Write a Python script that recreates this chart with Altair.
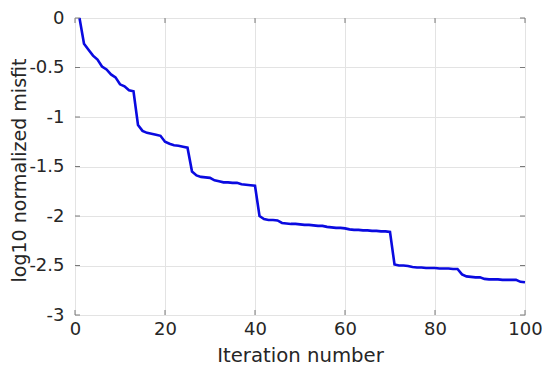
import altair as alt
import pandas as pd

iterations = list(range(1, 101))
misfit = [
    0.00, -0.26, -0.32, -0.38, -0.42, -0.49, -0.52, -0.57, -0.60, -0.67,
    -0.69, -0.73, -0.74, -1.08, -1.14, -1.16, -1.17, -1.18, -1.19, -1.25,
    -1.27, -1.285, -1.29, -1.30, -1.31, -1.55, -1.59, -1.605, -1.61, -1.615,
    -1.64, -1.65, -1.66, -1.66, -1.665, -1.665, -1.68, -1.685, -1.69, -1.695,
    -2.00, -2.03, -2.04, -2.04, -2.045, -2.07, -2.075, -2.08, -2.08, -2.085,
    -2.09, -2.09, -2.095, -2.10, -2.10, -2.11, -2.115, -2.12, -2.12, -2.125,
    -2.135, -2.14, -2.14, -2.145, -2.145, -2.15, -2.15, -2.155, -2.155, -2.16,
    -2.49, -2.50, -2.50, -2.505, -2.515, -2.52, -2.52, -2.525, -2.525, -2.525,
    -2.53, -2.53, -2.53, -2.535, -2.535, -2.59, -2.61, -2.615, -2.62, -2.62,
    -2.635, -2.64, -2.64, -2.64, -2.645, -2.645, -2.645, -2.645, -2.665, -2.67,
]
x_ticks = [0, 20, 40, 60, 80, 100]
y_ticks = [0, -0.5, -1, -1.5, -2, -2.5, -3]

df = pd.DataFrame({"it": iterations, "m": misfit})
FONT = "DejaVu Sans"
TXT = "#262626"
W, H = 450, 297

xs = alt.Scale(domain=[0, 100], nice=False, zero=False)
ys = alt.Scale(domain=[-3, 0], nice=False, zero=False)

line = alt.Chart(df).mark_line(color="#0a0ae0", strokeWidth=2.6).encode(
    x=alt.X("it:Q", scale=xs, title="Iteration number",
            axis=alt.Axis(values=x_ticks, labelExpr="datum.value + ''", grid=True,
                          gridColor="#e3e3e3", tickSize=0, labelPadding=5, domain=False,
                          labelFontSize=18, titleFontSize=19.7,
                          titleY=46, titleBaseline="alphabetic",
                          labelColor=TXT, titleColor=TXT, labelFont=FONT, titleFont=FONT,
                          titleFontWeight="normal", labelFlush=False)),
    y=alt.Y("m:Q", scale=ys, title="log10 normalized misfit",
            axis=alt.Axis(values=y_ticks, labelExpr="datum.value + ''", grid=True,
                          gridColor="#e3e3e3", tickSize=0, labelPadding=11, domain=False,
                          labelFontSize=18, titleFontSize=19, titleX=-50, titleY=152,
                          titleBaseline="alphabetic", titleAngle=270,
                          labelColor=TXT, titleColor=TXT, labelFont=FONT, titleFont=FONT,
                          titleFontWeight="normal", labelFlush=False)),
)

xt = pd.DataFrame({"t": x_ticks})
yt = pd.DataFrame({"t": y_ticks})
tick_color = "#7a7a7a"
xb = alt.Chart(xt).mark_rule(color=tick_color, strokeWidth=1).encode(
    x=alt.X("t:Q", scale=xs), y=alt.value(H), y2=alt.value(H - 5))
xtp = alt.Chart(xt).mark_rule(color=tick_color, strokeWidth=1).encode(
    x=alt.X("t:Q", scale=xs), y=alt.value(0), y2=alt.value(5))
yl = alt.Chart(yt).mark_rule(color=tick_color, strokeWidth=1).encode(
    y=alt.Y("t:Q", scale=ys), x=alt.value(0), x2=alt.value(5))
yr = alt.Chart(yt).mark_rule(color=tick_color, strokeWidth=1).encode(
    y=alt.Y("t:Q", scale=ys), x=alt.value(W), x2=alt.value(W - 5))

chart = alt.layer(line, xb, xtp, yl, yr).properties(
    width=W, height=H,
    autosize=alt.AutoSizeParams(type="none"),
    padding={"left": 67, "top": 10, "right": 17, "bottom": 50},
).configure_view(stroke="#7a7a7a", strokeWidth=1.2).configure(background="white")

chart.save("out.html", embed_options={"renderer": "svg", "actions": False})
